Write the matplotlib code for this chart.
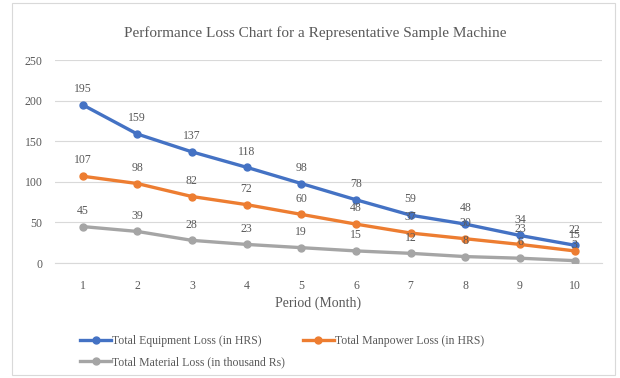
import matplotlib.pyplot as plt
from matplotlib.patches import Rectangle

plt.rcParams["font.family"] = ["Liberation Serif", "DejaVu Serif"]

# Monthly loss figures
periods = [1, 2, 3, 4, 5, 6, 7, 8, 9, 10]
equipment_loss = [195, 159, 137, 118, 98, 78, 59, 48, 34, 22]
manpower_loss = [107, 98, 82, 72, 60, 48, 37, 30, 23, 15]
material_loss = [45, 39, 28, 23, 19, 15, 12, 8, 6, 3]

series_names = [
    "Total Equipment Loss (in HRS)",
    "Total Manpower Loss (in HRS)",
    "Total Material Loss (in thousand Rs)",
]
y_ticks = [0, 50, 100, 150, 200, 250]

BLUE = "#4472C4"
ORANGE = "#ED7D31"
GREY = "#A5A5A5"
TEXT = "#595959"
GRID = "#D9D9D9"

fig = plt.figure(figsize=(6.2, 3.78), dpi=100)
fig.patches.append(Rectangle((0.02, 0.008), 0.972, 0.984, transform=fig.transFigure,
                             fill=False, edgecolor="#D9D9D9", lw=0.8))
ax = fig.add_axes([0.089, 0.304, 0.882, 0.537])

lines = []
for values, color, name in zip([equipment_loss, manpower_loss, material_loss],
                               [BLUE, ORANGE, GREY], series_names):
    line, = ax.plot(periods, values, color=color, lw=2.4, marker="o", markersize=5,
                    label=name, zorder=3)
    lines.append(line)
    for x, v in zip(periods, values):
        ax.annotate(str(v), (x, v), xytext=(0, 7), textcoords="offset points",
                    ha="center", va="bottom", fontsize=8.5, color=TEXT)

ax.set_xlim(0.5, 10.5)
ax.set_ylim(0, 250)
ax.set_yticks(y_ticks)
ax.set_xticks(periods)
ax.tick_params(axis="both", length=0, labelsize=8.5, colors=TEXT)
ax.tick_params(axis="x", pad=12)
ax.tick_params(axis="y", pad=9)
ax.grid(axis="y", color=GRID, lw=0.8)
ax.set_axisbelow(True)
for side in ["top", "right", "left"]:
    ax.spines[side].set_visible(False)
ax.spines["bottom"].set_color(GRID)

ax.set_xlabel("Period (Month)", fontsize=10, color=TEXT)
ax.xaxis.set_label_coords(0.48, -0.165)
fig.text(0.508, 0.913, "Performance Loss Chart for a Representative Sample Machine",
         ha="center", va="center", fontsize=11, color=TEXT)

# legend fills row by row: equipment, manpower / material
order = [0, 2, 1]
fig.legend([lines[i] for i in order], [series_names[i] for i in order],
           loc="upper left", bbox_to_anchor=(0.122, 0.125), ncol=2, frameon=False,
           fontsize=8.5, labelcolor=TEXT, handlelength=2.6, handletextpad=0.1,
           columnspacing=1.5, labelspacing=0.75, borderaxespad=0)

fig.savefig("out.png", dpi=100, facecolor="white")
